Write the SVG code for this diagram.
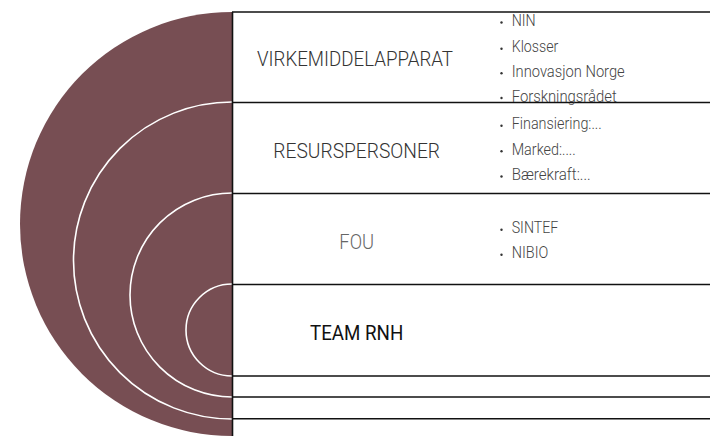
<svg xmlns="http://www.w3.org/2000/svg" width="710" height="436" viewBox="0 0 710 436">
<style>
.arc{fill:none;stroke:#ffffff;stroke-width:1.6}
.rule{stroke:#111111;stroke-width:1.6;fill:none}
.lbl{font-family:Roboto,"DejaVu Sans",sans-serif;font-weight:300;font-size:21px;text-anchor:middle}
.item{font-family:Roboto,"DejaVu Sans",sans-serif;font-weight:300;font-size:16px;fill:#444444}
.dot{fill:#333333}
</style>
<rect width="710" height="436" fill="#ffffff"/>
<g id="circles">
<path d="M232,12 A212,212 0 0 0 232,436 Z" fill="#774e53"/>
<path class="arc" d="M232,102 A158.5,158.5 0 0 0 232,419"/>
<path class="arc" d="M232,193 A102,102 0 0 0 232,397"/>
<path class="arc" d="M232,284 A46,46 0 0 0 232,376"/>
</g>
<g id="dividers">
<line class="rule" x1="232.5" y1="12" x2="232.5" y2="436"/>
<line class="rule" x1="232" y1="12" x2="710" y2="12"/>
<line class="rule" x1="232" y1="102.5" x2="710" y2="102.5"/>
<line class="rule" x1="232" y1="193.5" x2="710" y2="193.5"/>
<line class="rule" x1="232" y1="284.5" x2="710" y2="284.5"/>
<line class="rule" x1="232" y1="376" x2="710" y2="376"/>
<line class="rule" x1="232" y1="397" x2="710" y2="397"/>
<line class="rule" x1="232" y1="418.7" x2="710" y2="418.7"/>
</g>
<g id="virkemiddelapparat">
<text class="lbl" x="355" y="65.7" fill="#333333" textLength="196" lengthAdjust="spacingAndGlyphs">VIRKEMIDDELAPPARAT</text>
<circle class="dot" cx="501.5" cy="22.5" r="1.2"/>
<text class="item" x="511.7" y="26" textLength="24" lengthAdjust="spacingAndGlyphs">NIN</text>
<circle class="dot" cx="501.5" cy="48.8" r="1.2"/>
<text class="item" x="511.7" y="52.3" textLength="46.6" lengthAdjust="spacingAndGlyphs">Klosser</text>
<circle class="dot" cx="501.5" cy="73.2" r="1.2"/>
<text class="item" x="511.7" y="76.7" textLength="113" lengthAdjust="spacingAndGlyphs">Innovasjon Norge</text>
<circle class="dot" cx="501.5" cy="98" r="1.2"/>
<text class="item" x="511.7" y="101.5" textLength="105" lengthAdjust="spacingAndGlyphs">Forskningsrådet</text>
</g>
<g id="resurspersoner">
<text class="lbl" x="356.7" y="158.3" fill="#333333" textLength="166.7" lengthAdjust="spacingAndGlyphs">RESURSPERSONER</text>
<circle class="dot" cx="501.5" cy="125.8" r="1.2"/>
<text class="item" x="511.7" y="129.3" textLength="90" lengthAdjust="spacingAndGlyphs">Finansiering:...</text>
<circle class="dot" cx="501.5" cy="151.2" r="1.2"/>
<text class="item" x="511.7" y="154.7" textLength="64" lengthAdjust="spacingAndGlyphs">Marked:....</text>
<circle class="dot" cx="501.5" cy="176.5" r="1.2"/>
<text class="item" x="511.7" y="180" textLength="79" lengthAdjust="spacingAndGlyphs">Bærekraft:...</text>
</g>
<g id="fou">
<text class="lbl" x="356.7" y="249" fill="#666666" textLength="34.7" lengthAdjust="spacingAndGlyphs">FOU</text>
<circle class="dot" cx="501.5" cy="229.8" r="1.2"/>
<text class="item" x="511.7" y="233.3" textLength="46.6" lengthAdjust="spacingAndGlyphs">SINTEF</text>
<circle class="dot" cx="501.5" cy="254.8" r="1.2"/>
<text class="item" x="511.7" y="258.3" textLength="36.6" lengthAdjust="spacingAndGlyphs">NIBIO</text>
</g>
<g id="team-rnh">
<text class="lbl" x="356.7" y="340" fill="#111111" style="font-weight:400" textLength="93.3" lengthAdjust="spacingAndGlyphs">TEAM RNH</text>
</g>
</svg>
